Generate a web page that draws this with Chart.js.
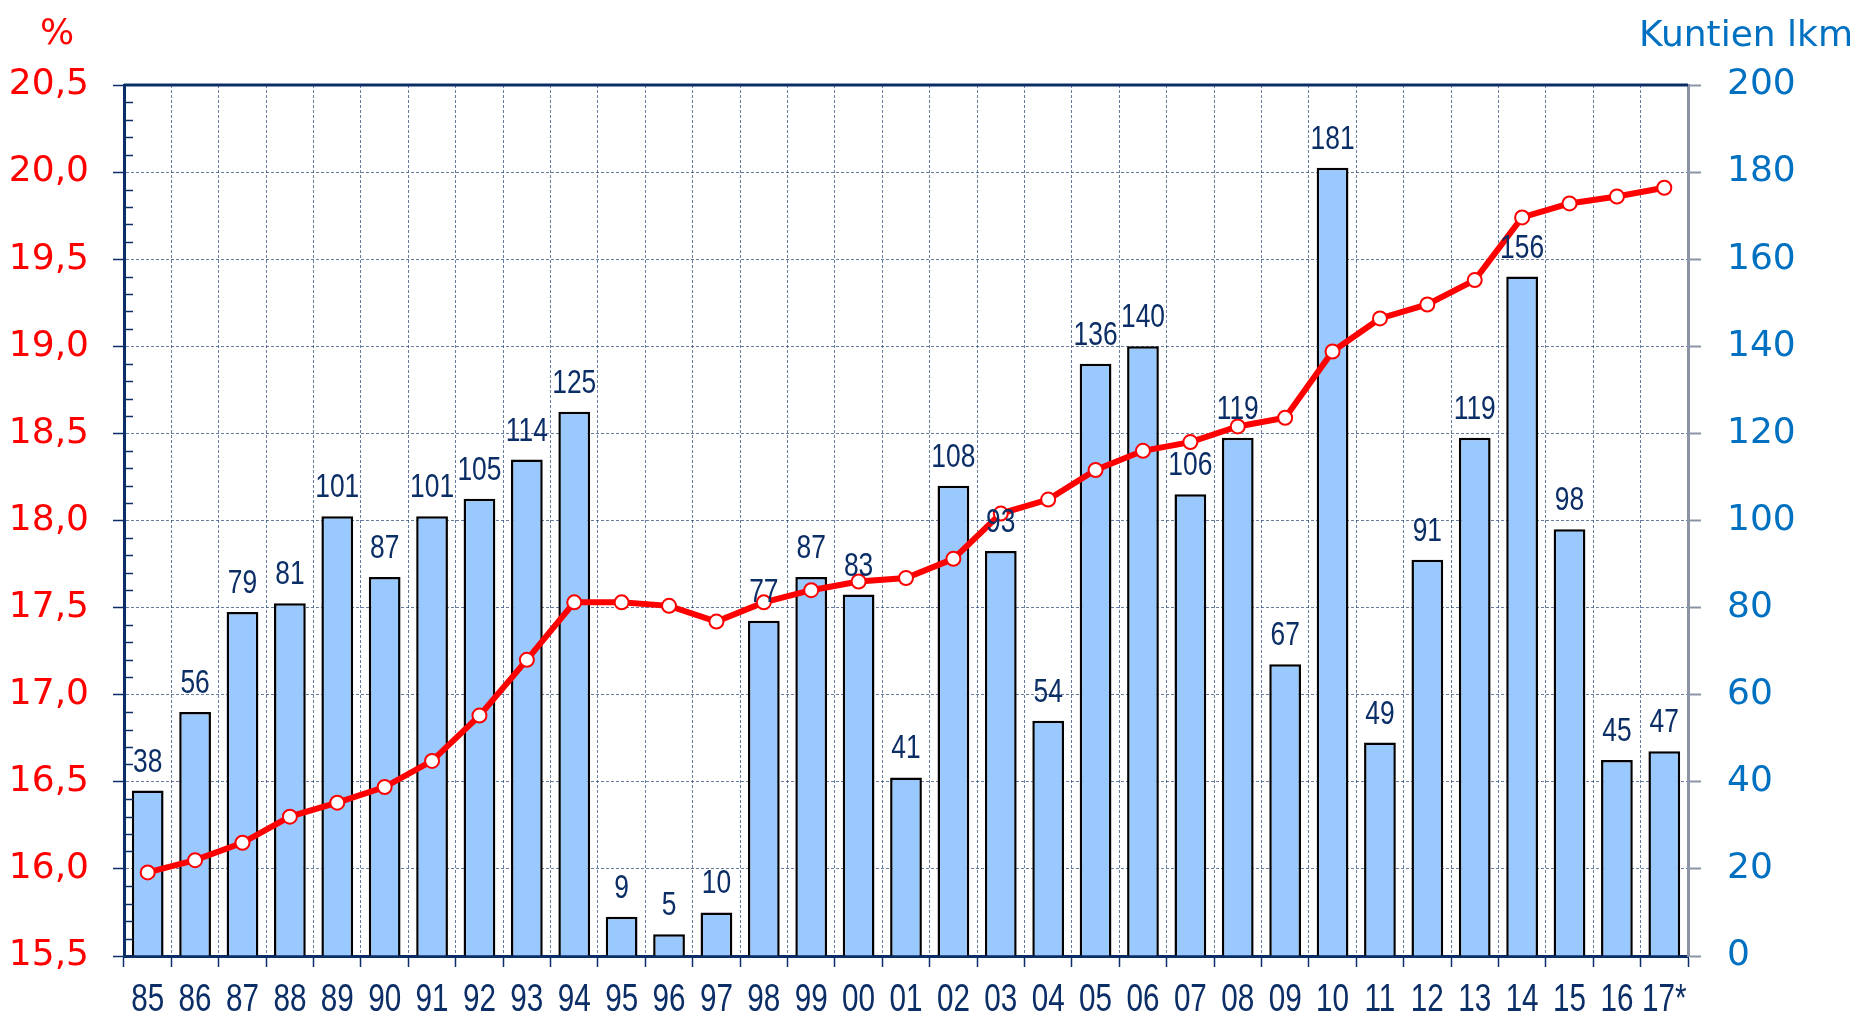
<!DOCTYPE html>
<html>
<head>
<meta charset="utf-8">
<script src="https://cdn.jsdelivr.net/npm/chart.js@4/dist/chart.umd.min.js"></script>
<style>
  body { margin: 0; background: #fff; }
  canvas { display: block; }
</style>
</head>
<body>
<canvas id="chart" width="1859" height="1015"></canvas>
<script>
// years on the x axis
const years = ["85","86","87","88","89","90","91","92","93","94","95","96","97","98","99",
  "00","01","02","03","04","05","06","07","08","09","10","11","12","13","14","15","16","17*"];

// bars: count (right axis)
const counts = [38,56,79,81,101,87,101,105,114,125,9,5,10,77,87,83,41,108,93,54,136,140,106,119,67,181,49,91,119,156,98,45,47];

// line: percent (left axis)
const percents = [15.98,16.05,16.15,16.30,16.38,16.47,16.62,16.88,17.20,17.53,17.53,17.51,17.42,17.53,17.60,
  17.65,17.67,17.78,18.04,18.12,18.29,18.40,18.45,18.54,18.59,18.97,19.16,19.24,19.38,19.74,19.82,19.86,19.91];

const navy = "#0b2e66";
const red = "#ff0000";
const blue = "#0070c0";
const gridCol = "rgba(40,70,120,0.7)";
const sans = "'Liberation Sans', Arial, sans-serif";
const wide = "'DejaVu Sans', Verdana, sans-serif";

// narrow text like Arial Narrow: squeeze Liberation Sans horizontally
function narrowText(ctx, text, x, y, size, squeeze) {
  ctx.save();
  ctx.font = size + "px " + sans;
  ctx.translate(x, y);
  ctx.scale(squeeze, 1);
  ctx.fillText(text, 0, 0);
  ctx.restore();
}

// frame, minor ticks, bar labels, x labels, axis captions
const extras = {
  id: "extras",
  afterDraw(chart) {
    const ctx = chart.ctx;
    const a = chart.chartArea;
    const y = chart.scales.y;
    const x = chart.scales.x;
    ctx.save();
    // top frame line
    ctx.strokeStyle = navy;
    ctx.lineWidth = 3;
    ctx.beginPath();
    ctx.moveTo(a.left, a.top);
    ctx.lineTo(a.right, a.top);
    ctx.stroke();
    // minor ticks on the left axis, inside
    ctx.lineWidth = 1.5;
    for (let v = 15.6; v < 20.5; v += 0.1) {
      const r = Math.round(v * 10) / 10;
      if (Math.abs(r * 2 - Math.round(r * 2)) < 1e-6) continue;
      const py = Math.round(y.getPixelForValue(r)) + 0.5;
      ctx.beginPath();
      ctx.moveTo(a.left, py);
      ctx.lineTo(a.left + 9, py);
      ctx.stroke();
    }
    ctx.fillStyle = navy;
    ctx.textAlign = "center";
    ctx.textBaseline = "alphabetic";
    // value labels over the bars
    const meta = chart.getDatasetMeta(1);
    meta.data.forEach((bar, i) => {
      narrowText(ctx, String(counts[i]), bar.x, bar.y - 19, 33, 0.8);
    });
    // year labels under the axis
    years.forEach((lab, i) => {
      narrowText(ctx, lab, x.getPixelForValue(i), a.bottom + 55, 38, 0.78);
    });
    // axis captions
    ctx.font = "36px " + wide;
    ctx.fillStyle = red;
    ctx.fillText("%", 57, 44);
    ctx.fillStyle = blue;
    ctx.textAlign = "right";
    ctx.fillText("Kuntien lkm", chart.width - 6, 46);
    ctx.restore();
  }
};

new Chart(document.getElementById("chart"), {
  data: {
    labels: years,
    datasets: [
      {
        type: "line",
        label: "%",
        data: percents,
        yAxisID: "y",
        borderColor: red,
        borderWidth: 6,
        pointRadius: 7,
        pointBorderWidth: 2,
        pointBackgroundColor: "#fff",
        pointBorderColor: red,
        tension: 0,
        order: 0
      },
      {
        type: "bar",
        label: "Kuntien lkm",
        data: counts,
        yAxisID: "y1",
        backgroundColor: "#99c9ff",
        borderColor: "#000",
        borderWidth: 2.5,
        barPercentage: 0.67,
        categoryPercentage: 1,
        order: 1
      }
    ]
  },
  options: {
    responsive: false,
    animation: false,
    layout: { padding: { top: 85, left: 0, right: 0, bottom: 0 } },
    plugins: { legend: { display: false }, tooltip: { enabled: false } },
    scales: {
      x: {
        offset: true,
        grid: {
          offset: true,
          color: gridCol,
          lineWidth: 1,
          tickLength: 11,
          tickColor: navy,
          tickWidth: 1.5
        },
        border: { color: navy, width: 3, dash: [3, 2] },
        ticks: {
          color: "rgba(0,0,0,0)",
          font: { family: sans, size: 30 },
          maxRotation: 0,
          autoSkip: false
        },
        afterFit(s) { s.height = 59; }
      },
      y: {
        position: "left",
        min: 15.5,
        max: 20.5,
        ticks: {
          stepSize: 0.5,
          color: red,
          font: { family: wide, size: 36 },
          padding: 24,
          callback: v => v.toFixed(1).replace(".", ",")
        },
        grid: {
          color: gridCol,
          lineWidth: 1,
          tickLength: 11,
          tickColor: navy,
          tickWidth: 1.5
        },
        border: { color: navy, width: 3, dash: [3, 2] },
        afterFit(s) { s.width = 124; }
      },
      y1: {
        position: "right",
        min: 0,
        max: 200,
        ticks: {
          stepSize: 20,
          color: blue,
          font: { family: wide, size: 36 },
          padding: 26
        },
        grid: {
          drawOnChartArea: false,
          tickLength: 13,
          tickColor: "#8a94a6",
          tickWidth: 2
        },
        border: { color: "#8a94a6", width: 3 },
        afterFit(s) { s.width = 171; }
      }
    }
  },
  plugins: [extras]
});
</script>
</body>
</html>
